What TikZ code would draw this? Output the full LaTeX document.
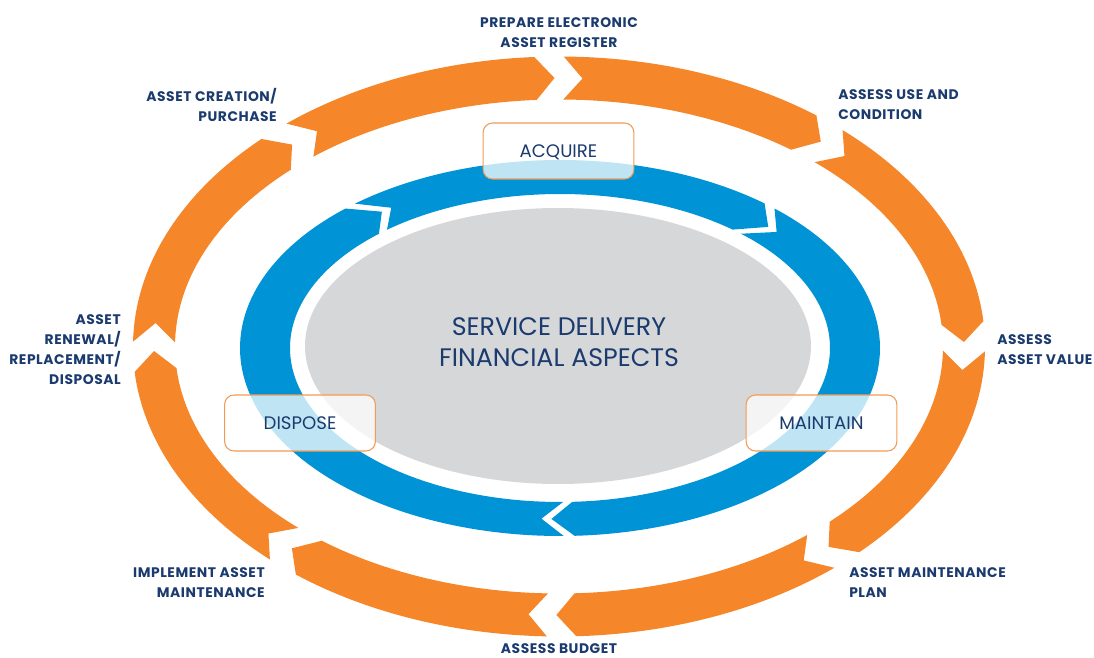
\documentclass[tikz,border=0pt]{standalone}
\usepackage{fontspec}
\setmainfont{Poppins}
\definecolor{ringorange}{HTML}{F5872A}
\definecolor{ringblue}{HTML}{0094D6}
\definecolor{coregray}{HTML}{D6D7D9}
\definecolor{navy}{HTML}{1B3A6E}
\definecolor{boxedge}{HTML}{F29B55}

% One arrow-shaped piece of an elliptic ring, running clockwise from the gap at
% angle #8 to the gap at angle #9 (parametric angles, degrees).
% #1 colour, #2/#3 centre, #4/#5 outer radii, #6/#7 inner radii.
% \gapw = width of the gap along the ring, \tipd = depth of the arrow point (px).
\newcommand{\ringpiece}[9]{%
  \pgfmathsetmacro\mx{(#4+#6)/2}%
  \pgfmathsetmacro\my{(#5+#7)/2}%
  \pgfmathsetmacro\sA{pi/180*100*sqrt((\mx/100*sin(#8))^2+(\my/100*cos(#8))^2)}%
  \pgfmathsetmacro\sB{pi/180*100*sqrt((\mx/100*sin(#9))^2+(\my/100*cos(#9))^2)}%
  \pgfmathsetmacro\hw{(\gapw+\tipd)/2}%
  \pgfmathsetmacro\tailC{#8-(\gapw-\tipd)/2/\sA}%
  \pgfmathsetmacro\tailT{#8-\hw/\sA}%
  \pgfmathsetmacro\headC{#9+\hw/\sB}%
  \pgfmathsetmacro\headT{#9+(\gapw-\tipd)/2/\sB}%
  \fill[#1] plot[domain=\tailC:\headC, samples=90] ({#2+#4*cos(\x)},{#3+#5*sin(\x)})
     -- ({#2+\mx*cos(\headT)},{#3+\my*sin(\headT)})
     -- plot[domain=\headC:\tailC, samples=90] ({#2+#6*cos(\x)},{#3+#7*sin(\x)})
     -- ({#2+\mx*cos(\tailT)},{#3+\my*sin(\tailT)}) -- cycle;
}

\begin{document}
\begin{tikzpicture}[x=0.75pt,y=0.75pt,
  steplabel/.style={font=\bfseries\fontsize{10.4}{15}\selectfont\addfontfeature{LetterSpace=4},
    text=navy, inner sep=0pt},
  phasebox/.style={draw=boxedge, line width=0.8pt, fill=white, fill opacity=0.75,
    text opacity=1, rounded corners=7pt, minimum width=113pt, minimum height=42pt,
    text=navy, text depth=0pt, font=\fontsize{13.6}{15}\selectfont}]
\useasboundingbox (0,0) rectangle (1094,657);

% outer cycle
\def\gapw{28}\def\tipd{19}
\ringpiece{ringorange}{559}{310.5}{426}{290}{384}{247}{90}{49}
\ringpiece{ringorange}{559}{310.5}{426}{290}{384}{247}{49}{0}
\ringpiece{ringorange}{559}{310.5}{426}{290}{384}{247}{0}{-49}
\ringpiece{ringorange}{559}{310.5}{426}{290}{384}{247}{-49}{-91}
\ringpiece{ringorange}{559}{310.5}{426}{290}{384}{247}{-91}{-132}
\ringpiece{ringorange}{559}{310.5}{426}{290}{384}{247}{-132}{-180}
\ringpiece{ringorange}{559}{310.5}{426}{290}{384}{247}{-180}{-229.5}
\ringpiece{ringorange}{559}{310.5}{426}{290}{384}{247}{-229.5}{-270}

% inner cycle
\def\gapw{10}\def\tipd{22}
\ringpiece{ringblue}{560}{309}{320}{188}{270}{154}{128.5}{46.5}
\ringpiece{ringblue}{560}{309}{320}{188}{270}{154}{46.5}{-90.5}
\ringpiece{ringblue}{560}{309}{320}{188}{270}{154}{-90.5}{-231.5}

% core
\fill[coregray] (558,311) ellipse [x radius=253, y radius=138];
\node[text=navy, font=\fontsize{19}{23.25}\selectfont, align=center] (core) at (559,314.5)
  {SERVICE DELIVERY\\FINANCIAL ASPECTS};

% phase boxes
\node[phasebox] (acquire) at (558.5,506) {ACQUIRE};
\node[phasebox] (dispose) at (300,234) {DISPOSE};
\node[phasebox] (maintain) at (821.5,234) {MAINTAIN};

% step labels
\node[steplabel, align=center] (register) at (559,624.5) {PREPARE ELECTRONIC\\ASSET REGISTER};
\node[steplabel, align=left, anchor=west] (condition) at (838,552) {ASSESS USE AND\\CONDITION};
\node[steplabel, align=left, anchor=west] (value) at (997,307) {ASSESS\\ASSET VALUE};
\node[steplabel, align=left, anchor=west] (plan) at (849,74) {ASSET MAINTENANCE\\PLAN};
\node[steplabel, anchor=base] (budget) at (559,4) {ASSESS BUDGET};
\node[steplabel, align=right, anchor=east] (implement) at (265,74) {IMPLEMENT ASSET\\MAINTENANCE};
\node[steplabel, align=right, anchor=east] (renewal) at (121,307) {ASSET\\RENEWAL/\\REPLACEMENT/\\DISPOSAL};
\node[steplabel, align=right, anchor=east] (creation) at (277,552) {ASSET CREATION/\\PURCHASE};
\end{tikzpicture}
\end{document}
